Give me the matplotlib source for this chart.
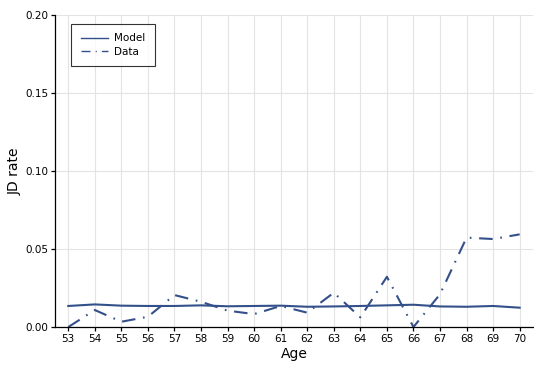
import matplotlib
matplotlib.use("Agg")
import matplotlib.pyplot as plt

ages = list(range(53, 71))
model_rate = [0.0135, 0.0145, 0.0137, 0.0135, 0.0135, 0.0139, 0.0133, 0.0135, 0.0137,
              0.0130, 0.0132, 0.0135, 0.0139, 0.0143, 0.0132, 0.0130, 0.0135, 0.0124]
data_rate = [0.0000, 0.0109, 0.0034, 0.0066, 0.0205, 0.0162, 0.0105, 0.0083, 0.0135,
             0.0092, 0.0220, 0.0062, 0.0322, 0.0000, 0.0210, 0.0573, 0.0564, 0.0594]
y_ticks = [0.00, 0.05, 0.10, 0.15, 0.20]

color = "#34508a"

fig = plt.figure(figsize=(5.34, 3.65), dpi=100)
ax = fig.add_axes([0.103, 0.104, 0.895, 0.855])

ax.plot(ages, model_rate, color=color, lw=1.5, label="Model")
ax.plot(ages, data_rate, color=color, lw=1.5, label="Data",
        dashes=(6.5, 3.7, 0.8, 3.7))

ax.set_xlim(52.5, 70.5)
ax.set_ylim(0, 0.20)
ax.set_xticks(ages)
ax.set_yticks(y_ticks)
ax.set_yticklabels([f"{v:.2f}" for v in y_ticks])
ax.grid(True, color="#e3e3e3", lw=0.8)
ax.set_axisbelow(True)
for side in ("top", "right"):
    ax.spines[side].set_visible(False)
for side in ("left", "bottom"):
    ax.spines[side].set_linewidth(0.9)
ax.tick_params(direction="out", length=3, width=0.9, labelsize=7.5, pad=2)
ax.set_xlabel("Age", fontsize=10, labelpad=2)
ax.set_ylabel("JD rate", fontsize=10, labelpad=2)

leg = ax.legend(loc="upper left", bbox_to_anchor=(0.0345, 0.971), borderaxespad=0,
                fontsize=7.5, frameon=True, fancybox=False, edgecolor="black",
                handlelength=2.6, handletextpad=0.6, borderpad=0.9,
                labelspacing=0.35)
leg.get_frame().set_linewidth(0.8)
for h in leg.get_lines():
    h.set_linewidth(1.0)

fig.savefig("out.png", dpi=100)
